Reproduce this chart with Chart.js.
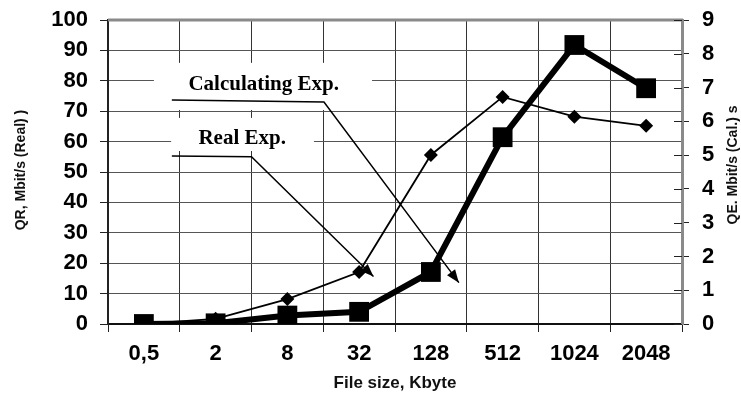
<!DOCTYPE html>
<html>
<head>
<meta charset="utf-8">
<script src="https://cdn.jsdelivr.net/npm/chart.js@4.4.0/dist/chart.umd.min.js"></script>
<style>
  html, body { margin: 0; padding: 0; background: #fff; }
  #wrap { width: 741px; height: 395px; position: relative; }
</style>
</head>
<body>
<div id="wrap"><canvas id="c" width="741" height="395"></canvas></div>
<script>
// ---- data ----
const categories = ['0,5', '2', '8', '32', '128', '512', '1024', '2048'];
const realExp = [0, 1.7, 8.2, 17.1, 55.6, 74.7, 68.2, 65.2];          // QR, Mbit/s (left axis)
const calcExp = [0, 0.02, 0.25, 0.36, 1.54, 5.53, 8.26, 6.98];        // QE, Mbit/s (right axis)
const leftTicks = [0, 10, 20, 30, 40, 50, 60, 70, 80, 90, 100];
const rightTicks = [0, 1, 2, 3, 4, 5, 6, 7, 8, 9];

// annotation callouts in data units (x = category index, y = left axis value)
const callouts = [
  { text: 'Calculating Exp.', box: [0.14, 85.9, 3.18, 70.4], at: [1.67, 78.6],
    path: [[0.39, 73.7], [2.51, 73.0], [4.39, 13.6]] },
  { text: 'Real Exp.', box: [0.38, 67.8, 2.37, 56.9], at: [1.37, 61.0],
    path: [[0.39, 55.3], [1.50, 55.0], [3.20, 15.6]] }
];

const sans = '"Liberation Sans", Arial, sans-serif';

const extras = {
  id: 'extras',
  beforeDatasetsDraw(chart) {
    const ctx = chart.ctx, xs = chart.scales.x, ys = chart.scales.y, yr = chart.scales.y1;
    const a = chart.chartArea;
    ctx.save();
    // top border (grey)
    ctx.strokeStyle = '#8a8a8a'; ctx.lineWidth = 3;
    ctx.beginPath(); ctx.moveTo(a.left, a.top); ctx.lineTo(a.right + 1, a.top); ctx.stroke();
    // inward part of right ticks
    ctx.strokeStyle = '#222'; ctx.lineWidth = 1;
    rightTicks.forEach(v => {
      const py = Math.round(yr.getPixelForValue(v)) + 0.5;
      ctx.beginPath(); ctx.moveTo(a.right - 8, py); ctx.lineTo(a.right, py); ctx.stroke();
    });
    // callout boxes + lines + arrows
    callouts.forEach(c => {
      const x1 = xs.getPixelForValue(c.box[0]), y1 = ys.getPixelForValue(c.box[1]);
      const x2 = xs.getPixelForValue(c.box[2]), y2 = ys.getPixelForValue(c.box[3]);
      ctx.fillStyle = '#fff';
      ctx.fillRect(x1, y1, x2 - x1, y2 - y1);
    });
    callouts.forEach(c => {
      ctx.fillStyle = '#000';
      ctx.font = 'bold 21px "Liberation Serif", "Times New Roman", serif';
      ctx.textAlign = 'center'; ctx.textBaseline = 'middle';
      ctx.fillText(c.text, xs.getPixelForValue(c.at[0]), ys.getPixelForValue(c.at[1]));
      const pts = c.path.map(p => [xs.getPixelForValue(p[0]), ys.getPixelForValue(p[1])]);
      ctx.strokeStyle = '#000'; ctx.lineWidth = 1.5;
      ctx.beginPath(); ctx.moveTo(pts[0][0], pts[0][1]);
      for (let i = 1; i < pts.length; i++) ctx.lineTo(pts[i][0], pts[i][1]);
      ctx.stroke();
      const p1 = pts[pts.length - 2], p2 = pts[pts.length - 1];
      const ang = Math.atan2(p2[1] - p1[1], p2[0] - p1[0]);
      const L = 13, W = 5;
      ctx.beginPath();
      ctx.moveTo(p2[0], p2[1]);
      ctx.lineTo(p2[0] - L * Math.cos(ang) + W * Math.sin(ang), p2[1] - L * Math.sin(ang) - W * Math.cos(ang));
      ctx.lineTo(p2[0] - L * Math.cos(ang) - W * Math.sin(ang), p2[1] - L * Math.sin(ang) + W * Math.cos(ang));
      ctx.closePath(); ctx.fill();
    });
    ctx.restore();
  },
  afterDraw(chart) {
    const ctx = chart.ctx;
    ctx.save();
    ctx.fillStyle = '#111';
    ctx.font = 'bold 14px ' + sans;
    ctx.textAlign = 'center'; ctx.textBaseline = 'middle';
    // left axis title
    ctx.save();
    ctx.translate(21, 170);
    ctx.rotate(-Math.PI / 2);
    ctx.fillText('QR, Mbit/s (Real) )', 0, 0);
    ctx.restore();
    // right axis title (reads bottom to top)
    ctx.save();
    ctx.translate(733, 165);
    ctx.rotate(-Math.PI / 2);
    ctx.fillText('QE. Mbit/s (Cal.) s', 0, 0);
    ctx.restore();
    ctx.restore();
  }
};

const tickFont = { family: sans, size: 22, weight: 'bold' };

new Chart(document.getElementById('c'), {
  type: 'line',
  data: {
    labels: categories,
    datasets: [
      {
        label: 'Real Exp.', data: realExp, yAxisID: 'y',
        borderColor: '#000', backgroundColor: '#000', borderWidth: 1.8,
        pointStyle: 'rectRot', pointRadius: 7, pointBorderWidth: 0, tension: 0, order: 2
      },
      {
        label: 'Calculating Exp.', data: calcExp, yAxisID: 'y1',
        borderColor: '#000', backgroundColor: '#000', borderWidth: 6,
        pointStyle: 'rect', pointRadius: 14, pointBorderWidth: 0, tension: 0, order: 1
      }
    ]
  },
  options: {
    responsive: false, animation: false,
    layout: { padding: { top: 20, left: 0, right: 0, bottom: 0 } },
    plugins: { legend: { display: false }, tooltip: { enabled: false } },
    scales: {
      x: {
        offset: true,
        grid: { offset: true, color: '#333', lineWidth: 1, tickLength: 8, tickColor: '#222' },
        border: { color: '#111', width: 2 },
        ticks: { color: '#000', font: tickFont, padding: 9, maxRotation: 0 },
        title: { display: true, text: 'File size, Kbyte', color: '#111',
                 font: { family: sans, size: 17, weight: 'bold' },
                 padding: { top: 0, bottom: 1 } },
        afterFit(s) { s.height = 71; s.paddingLeft = 0; s.paddingRight = 0; }
      },
      y: {
        position: 'left', min: 0, max: 100,
        afterBuildTicks(s) { s.ticks = leftTicks.map(v => ({ value: v })); },
        grid: { color: '#555', lineWidth: 1, tickLength: 8, tickColor: '#222' },
        border: { color: '#222', width: 2 },
        ticks: { color: '#000', font: tickFont, padding: 12 },
        afterFit(s) { s.width = 108; s.paddingTop = 0; s.paddingBottom = 0; }
      },
      y1: {
        position: 'right', min: 0, max: 9,
        afterBuildTicks(s) { s.ticks = rightTicks.map(v => ({ value: v })); },
        grid: { drawOnChartArea: false, tickLength: 7, tickColor: '#222' },
        border: { color: '#8a8a8a', width: 3 },
        ticks: { color: '#000', font: tickFont, padding: 13 },
        afterFit(s) { s.width = 59; s.paddingTop = 0; s.paddingBottom = 0; }
      }
    }
  },
  plugins: [extras]
});
</script>
</body>
</html>
